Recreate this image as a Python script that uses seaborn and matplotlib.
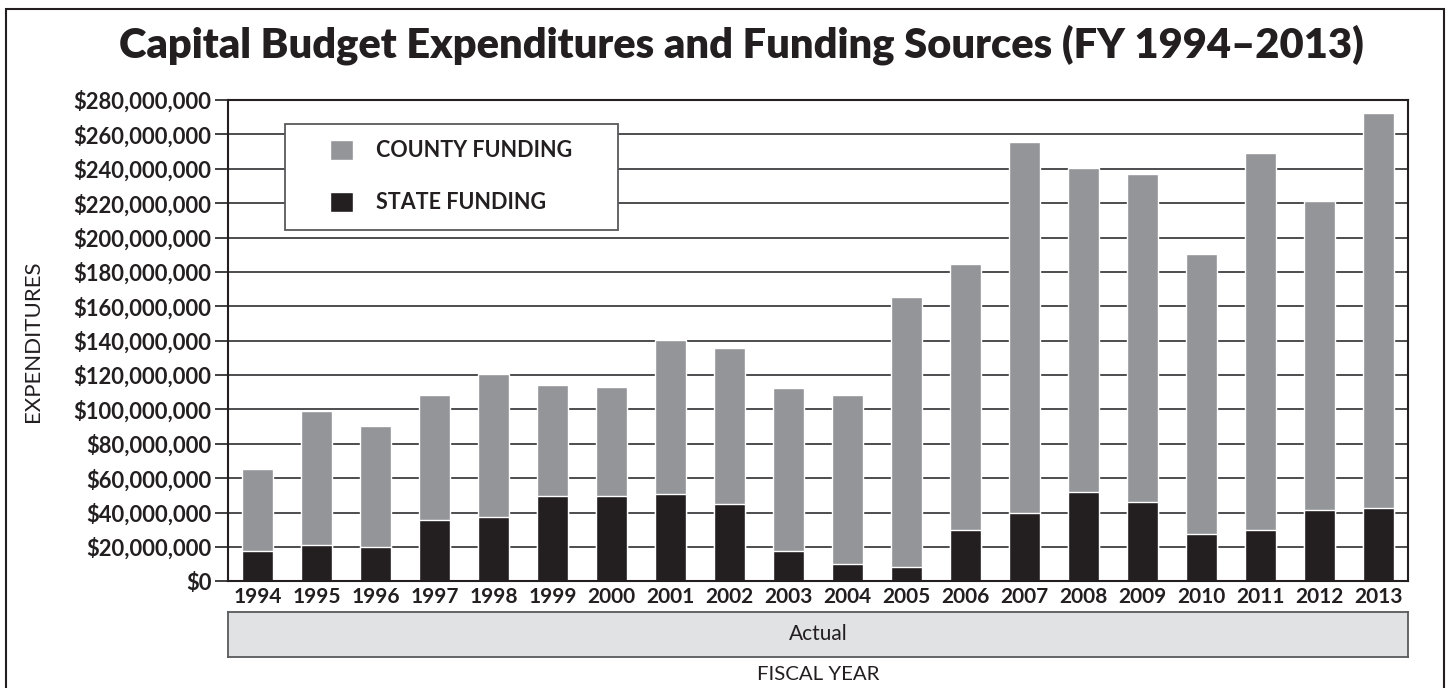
import numpy as np
import pandas as pd
import matplotlib
matplotlib.use('Agg')
import matplotlib.pyplot as plt
import seaborn as sns
from matplotlib.patches import Rectangle
from matplotlib.ticker import FuncFormatter, MultipleLocator

# data (millions of dollars)
years = [str(y) for y in range(1994, 2014)]
state_funding = [17.6, 21.1, 20.0, 35.7, 37.4, 49.6, 49.6, 50.8, 45.0, 17.6,
                 10.1, 8.3, 29.8, 39.7, 51.9, 46.1, 27.6, 29.8, 41.5, 42.6]
county_funding = [47.7, 78.1, 70.3, 72.7, 83.2, 64.6, 63.4, 89.6, 90.7, 94.8,
                  98.3, 156.9, 154.8, 215.9, 188.7, 190.9, 162.8, 219.2, 179.7, 229.8]

df = pd.DataFrame({'year': years,
                   'state': np.array(state_funding) * 1e6,
                   'county': np.array(county_funding) * 1e6})
df['total'] = df['state'] + df['county']

sns.set_style('white')
plt.rcParams['font.family'] = ['Lato', 'DejaVu Sans']
ink = '#231f20'
grey = '#939598'

fig = plt.figure(figsize=(14.49, 6.88), dpi=100)
ax = fig.add_axes([228 / 1449, 106.7 / 688, 1180 / 1449, 481.3 / 688])

# stacked bars: total (grey) with state (black) on top of it
sns.barplot(data=df, x='year', y='total', ax=ax, color=grey, saturation=1,
            width=0.51, label='COUNTY FUNDING', zorder=2)
sns.barplot(data=df, x='year', y='state', ax=ax, color=ink, saturation=1,
            width=0.51, label='STATE FUNDING', zorder=2)

ax.set_xlim(-0.5, 19.5)
ax.set_ylim(0, 280e6)
ax.yaxis.set_major_locator(MultipleLocator(20e6))
ax.yaxis.set_major_formatter(FuncFormatter(lambda v, p: '${:,.0f}'.format(v)))
ax.yaxis.grid(True, color='#4d4d4f', lw=1.4, zorder=0)
ax.set_axisbelow(True)
ax.set_xlabel('')
ax.set_ylabel('')
for s in ax.spines.values():
    s.set_visible(True)
    s.set_color(ink)
    s.set_linewidth(1.5)
ax.tick_params(axis='y', left=True, length=9.4, width=1.2, color=ink, pad=2.5,
               labelsize=15.8, labelcolor=ink)
ax.tick_params(axis='x', length=0, pad=4, labelsize=15, labelcolor=ink)
for lab in ax.get_yticklabels() + ax.get_xticklabels():
    lab.set_fontweight('bold')

# legend box
ax.add_patch(Rectangle((0.0483, 0.730), 0.2822, 0.220, transform=ax.transAxes,
                       facecolor='white', edgecolor='#58595b', lw=1.3, zorder=3))
leg = ax.legend(loc='upper left', bbox_to_anchor=(0.0864, 0.9169), frameon=False,
                borderaxespad=0, borderpad=0, handlelength=1.07, handleheight=1.07,
                handletextpad=1.07, labelspacing=1.4,
                prop={'size': 15.5, 'weight': 'bold'})
leg.set_zorder(4)
for t in leg.get_texts():
    t.set_color(ink)

# "Actual" band under the axis
band = fig.add_axes([228 / 1449, 31 / 688, 1180 / 1449, 45 / 688])
band.set_facecolor('#e1e2e4')
band.set_xticks([])
band.set_yticks([])
for s in band.spines.values():
    s.set_color('#58595b')
    s.set_linewidth(1.3)
band.text(0.5, 0.5, 'Actual', ha='center', va='center', fontsize=15, color=ink,
          transform=band.transAxes)

fig.text(0.5645, 0.019, 'FISCAL YEAR', ha='center', va='center', fontsize=14.7, color=ink)
fig.text(0.0228, 0.504, 'EXPENDITURES', ha='center', va='center', rotation=90,
         fontsize=16, color=ink)
fig.text(0.512, 0.9346, 'Capital Budget Expenditures and Funding Sources (FY 1994\u20132013)',
         ha='center', va='center', fontsize=30, fontweight='heavy', color=ink)

# outer frame
fig.add_artist(Rectangle((6 / 1449, -0.05), 1438 / 1449, 679 / 688 + 0.05,
                         transform=fig.transFigure, fill=False, edgecolor=ink,
                         lw=1.5, clip_on=False))

fig.savefig('out.png', dpi=100)
